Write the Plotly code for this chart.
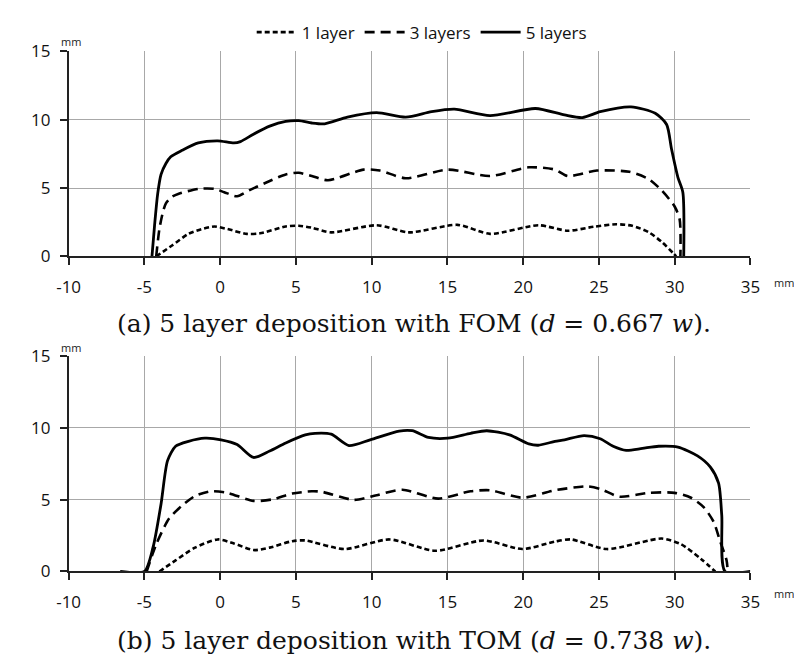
import plotly.graph_objects as go

# ---------------- data ----------------
x_ticks = [-10, -5, 0, 5, 10, 15, 20, 25, 30, 35]
x_ticklabels = ["-10", "-5", "0", "5", "10", "15", "20", "25", "30", "35"]
y_ticks = [0, 5, 10, 15]
y_ticklabels = ["0", "5", "10", "15"]

series_names = ["1 layer", "3 layers", "5 layers"]

# (a) FOM
a1_x = [-4.22, -3.15, -2.09, -1.23, -0.37, 0.49, 1.77, 2.63, 4.33, 5.19, 6.05, 7.33, 10.33, 12.46,
        15.67, 17.81, 21.02, 22.94, 24.66, 26.15, 27.2, 28.3, 29.15, 29.9, 30.1]
a1_y = [0, 0.82, 1.65, 2.0, 2.19, 2.0, 1.65, 1.69, 2.19, 2.24, 2.1, 1.76, 2.28, 1.76,
        2.31, 1.65, 2.28, 1.88, 2.17, 2.35, 2.24, 1.76, 1.06, 0.24, 0]

a3_x = [-4.22, -4.01, -3.79, -3.58, -3.2, -2.73, -1.44, -0.37, 0.27, 1.12, 1.98, 3.05, 4.33, 5.19,
        6.05, 7.12, 9.47, 10.54, 12.25, 15.03, 17.81, 20.38, 22.1, 22.94, 24.87, 27.01, 28.3,
        29.15, 30.0, 30.33, 30.38]
a3_y = [0, 2.0, 3.18, 3.88, 4.35, 4.59, 4.94, 4.94, 4.7, 4.4, 4.87, 5.41, 6.0, 6.12,
        5.88, 5.57, 6.35, 6.28, 5.72, 6.35, 5.88, 6.52, 6.35, 5.88, 6.28, 6.19, 5.65,
        4.82, 3.65, 2.71, 0]

a5_x = [-4.5, -4.33, -4.12, -3.9, -3.58, -3.26, -2.51, -1.44, -0.16, 0.91, 1.34, 2.2, 3.27, 4.33,
        5.19, 6.05, 6.9, 8.4, 10.33, 12.25, 13.96, 15.46, 17.81, 20.81, 22.73, 23.91, 25.09,
        27.12, 28.72, 29.47, 29.79, 30.22, 30.54, 30.6]
a5_y = [0, 2.24, 4.59, 6.0, 6.8, 7.29, 7.76, 8.3, 8.45, 8.3, 8.4, 8.94, 9.53, 9.88,
        9.93, 9.76, 9.7, 10.19, 10.52, 10.19, 10.59, 10.77, 10.3, 10.82, 10.35, 10.16, 10.59,
        10.94, 10.47, 9.65, 7.88, 5.77, 4.7, 0]

# (b) TOM
b1_x = [-4.01, -2.94, -1.66, -0.16, 0.91, 2.2, 3.27, 4.76, 5.62, 8.19, 11.18, 14.18, 17.39,
        19.95, 22.1, 23.16, 25.52, 29.15, 30.43, 31.72, 32.68]
b1_y = [0, 0.77, 1.66, 2.23, 1.95, 1.49, 1.66, 2.11, 2.16, 1.56, 2.23, 1.44, 2.16,
        1.56, 2.08, 2.23, 1.56, 2.29, 1.89, 0.89, 0]

b3_x = [-4.85, -4.22, -3.37, -2.51, -1.66, -0.58, 0.48, 2.2, 3.48, 4.76, 6.05, 6.69, 8.83, 10.33,
        12.03, 14.39, 16.53, 17.81, 19.95, 22.1, 24.23, 25.09, 26.37, 28.3, 30.0, 31.08, 31.93,
        32.57, 33.0, 33.43, 33.5]
b3_y = [0, 1.89, 3.68, 4.58, 5.25, 5.58, 5.47, 4.91, 5.02, 5.42, 5.58, 5.55, 4.98, 5.31,
        5.69, 5.07, 5.58, 5.65, 5.13, 5.65, 5.92, 5.74, 5.2, 5.47, 5.47, 5.13, 4.46,
        3.46, 2.11, 0.77, 0]

b5_x = [-6.6, -5.0, -4.43, -3.9, -3.47, -2.94, -2.09, -1.01, 0.06, 1.12, 2.2, 3.27, 4.33, 5.62,
        6.26, 7.33, 8.5, 9.9, 11.82, 12.68, 13.75, 15.03, 16.53, 17.6, 19.1, 20.38, 21.0, 22.1,
        22.73, 24.02, 25.09, 25.94, 26.8, 27.87, 28.94, 30.22, 31.51, 32.36, 32.9, 33.11, 33.33, 35]
b5_y = [0, 0, 1.67, 4.7, 7.71, 8.71, 9.05, 9.27, 9.16, 8.83, 7.93, 8.38, 8.94, 9.5,
        9.61, 9.55, 8.76, 9.16, 9.77, 9.79, 9.32, 9.27, 9.61, 9.79, 9.5, 8.87, 8.78, 9.05,
        9.16, 9.45, 9.23, 8.71, 8.42, 8.56, 8.71, 8.65, 8.04, 7.26, 6.14, 3.9, 0, 0]

caption_a = "(a) 5 layer deposition with FOM (<i>d</i> = 0.667 <i>w</i>)."
caption_b = "(b) 5 layer deposition with TOM (<i>d</i> = 0.738 <i>w</i>)."

# ---------------- figure ----------------
W, H = 802, 657
styles = {
    "1 layer": dict(dash="5px,3px", width=2.6),
    "3 layers": dict(dash="10px,6px", width=2.6),
    "5 layers": dict(dash="solid", width=2.8),
}

fig = go.Figure()
panels = [
    ("x", "y", [(a1_x, a1_y), (a3_x, a3_y), (a5_x, a5_y)], True),
    ("x2", "y2", [(b1_x, b1_y), (b3_x, b3_y), (b5_x, b5_y)], False),
]
for xa, ya, data, show in panels:
    for name, (xs, ys) in zip(series_names, data):
        st = styles[name]
        fig.add_trace(go.Scatter(
            x=xs, y=ys, mode="lines", name=name, xaxis=xa, yaxis=ya, showlegend=show,
            line=dict(color="black", dash=st["dash"], width=st["width"],
                      shape="spline", smoothing=0.7),
        ))

tickfont = dict(family="Open Sans, Lato, sans-serif", size=17, color="#111")
common_x = dict(range=[-10, 35], tickvals=x_ticks, ticktext=x_ticklabels,
                showgrid=True, gridcolor="#a8a8a8", gridwidth=1, zeroline=False,
                showline=True, linecolor="#222", linewidth=1.6,
                ticks="outside", ticklen=7, tickwidth=1.5, tickcolor="#222",
                tickfont=tickfont, ticklabelstandoff=7)
common_y = dict(range=[0, 15], tickvals=y_ticks, ticktext=y_ticklabels,
                showgrid=True, gridcolor="#a8a8a8", gridwidth=1, zeroline=False,
                showline=True, linecolor="#222", linewidth=1.6,
                ticks="outside", ticklen=7, tickwidth=1.5, tickcolor="#222",
                tickfont=tickfont, ticklabelstandoff=6)

x0, x1 = 50 / W, 751 / W
fig.update_layout(
    width=W, height=H, margin=dict(l=0, r=0, t=0, b=0),
    paper_bgcolor="white", plot_bgcolor="white",
    xaxis=dict(domain=[x0, x1], anchor="y", **common_x),
    yaxis=dict(domain=[1 - 245 / H, 1 - 32.5 / H], anchor="x", **common_y),
    xaxis2=dict(domain=[x0, x1], anchor="y2", **common_x),
    yaxis2=dict(domain=[1 - 571.5 / H, 1 - 348 / H], anchor="x2", **common_y),
    legend=dict(orientation="h", x=0.515, xanchor="center", y=1 - 13 / H, yanchor="middle",
                font=dict(family="Open Sans, Lato, sans-serif", size=17, color="#111"),
                bgcolor="rgba(0,0,0,0)", itemwidth=40, tracegroupgap=0),
    showlegend=True,
)

mm_font = dict(family="Open Sans, Lato, sans-serif", size=11, color="#222")
cap_font = dict(family="DejaVu Serif, Liberation Serif, serif", size=25, color="#111")
ann = [
    dict(text="mm", x=52 / W, y=1 - 22 / H),
    dict(text="mm", x=52 / W, y=1 - 339 / H),
    dict(text="mm", x=786 / W, y=1 - 272 / H),
    dict(text="mm", x=786 / W, y=1 - 594 / H),
]
for a in ann:
    fig.add_annotation(xref="paper", yref="paper", showarrow=False, xanchor="center",
                       yanchor="middle", font=mm_font, **a)
fig.add_annotation(text=caption_a, xref="paper", yref="paper", x=405 / W, y=1 - 315 / H,
                   showarrow=False, xanchor="center", yanchor="middle", font=cap_font)
fig.add_annotation(text=caption_b, xref="paper", yref="paper", x=405 / W, y=1 - 643 / H,
                   showarrow=False, xanchor="center", yanchor="middle", font=cap_font)

fig.write_html("out.html")
